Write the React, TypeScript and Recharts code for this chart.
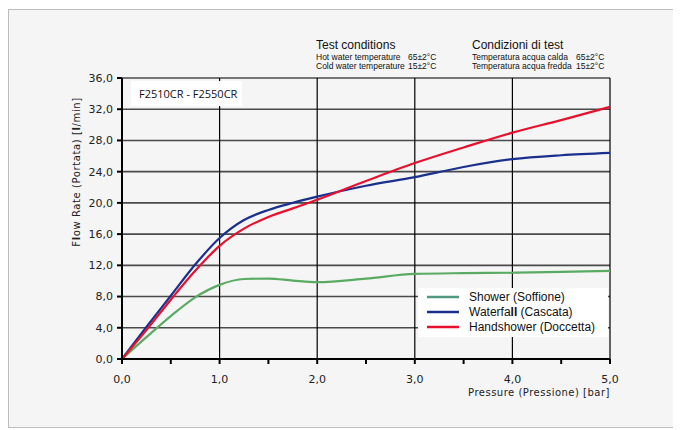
import React from "react";
import { LineChart, Line, XAxis, YAxis, ReferenceLine } from "recharts";

const pressure = [0, 0.25, 0.5, 0.75, 1.0, 1.25, 1.5, 1.75, 2.0, 2.5, 3.0, 3.5, 4.0, 4.5, 5.0];
const shower = [0, 2.8, 5.5, 7.9, 9.5, 10.25, 10.3, 10.05, 9.85, 10.3, 10.9, 11.0, 11.05, 11.15, 11.3];
const waterfall = [0, 4.1, 8.1, 12.1, 15.5, 17.8, 19.1, 20.0, 20.8, 22.2, 23.3, 24.6, 25.6, 26.1, 26.4];
const handshower = [0, 3.7, 7.6, 11.3, 14.5, 16.7, 18.2, 19.3, 20.4, 22.8, 25.1, 27.1, 29.0, 30.6, 32.3];

const xTicks = [0, 0.5, 1, 1.5, 2, 2.5, 3, 3.5, 4, 4.5, 5];
const yTicks = [0, 4, 8, 12, 16, 20, 24, 28, 32, 36];
const xGrid = [1, 2, 3, 4, 5];
const yGrid = [4, 8, 12, 16, 20, 24, 28, 32, 36];

const data = pressure.map((p, i) => ({
  p,
  shower: shower[i],
  waterfall: waterfall[i],
  handshower: handshower[i],
}));

const GREEN = "#5aab62";
const BLUE = "#1b2f8c";
const RED = "#e8102c";

const fmt = (v: number) => v.toFixed(1).replace(".", ",");
const tickFont = { fontFamily: "DejaVu Sans", fontSize: 11, fill: "#222" };

export default function App() {
  return (
    <div style={{ position: "relative", width: 681, height: 430, margin: "-8px 0 0 -8px" }}>
      <div
        style={{
          position: "absolute",
          left: 8,
          top: 9,
          width: 664,
          height: 417,
          background: "#f5f5f5",
          border: "1px solid #bdbdbd",
        }}
      />
      <div style={{ position: "absolute", left: 0, top: 0 }}>
        <LineChart width={681} height={430} data={data} margin={{ top: 78, right: 71, bottom: 41, left: 62 }}>
          {yGrid.map((v) => (
            <ReferenceLine key={"h" + v} y={v} stroke="#4a4a4a" strokeWidth={1.6} />
          ))}
          {xGrid.map((v) => (
            <ReferenceLine key={"v" + v} x={v} stroke="#000" strokeWidth={1.2} />
          ))}
          <XAxis
            dataKey="p"
            type="number"
            domain={[0, 5]}
            ticks={xTicks}
            tickFormatter={(v: number) => (Number.isInteger(v) ? fmt(v) : "")}
            height={30}
            tickSize={5}
            tickMargin={11}
            stroke="#000"
            strokeWidth={2}
            tick={tickFont}
          />
          <YAxis
            type="number"
            domain={[0, 36]}
            ticks={yTicks}
            tickFormatter={fmt}
            width={60}
            tickSize={5}
            tickMargin={4}
            stroke="#000"
            strokeWidth={2}
            tick={tickFont}
          />
          <Line type="monotone" dataKey="shower" stroke={GREEN} strokeWidth={2.2} dot={false} isAnimationActive={false} />
          <Line type="monotone" dataKey="waterfall" stroke={BLUE} strokeWidth={2.2} dot={false} isAnimationActive={false} />
          <Line type="monotone" dataKey="handshower" stroke={RED} strokeWidth={2.2} dot={false} isAnimationActive={false} />
        </LineChart>
      </div>
      <svg width={681} height={430} style={{ position: "absolute", left: 0, top: 0, pointerEvents: "none" }}>
        <rect x={131} y={81} width={111} height={25} fill="#fff" />
        <text x={139} y={98} fontFamily="Open Sans" fontSize={11} fill="#111">
          F2510CR - F2550CR
        </text>

        <g fontFamily="Liberation Sans" fill="#111">
          <text x={316} y={49} fontSize={12}>Test conditions</text>
          <text x={316} y={60} fontSize={8.5}>Hot water temperature</text>
          <text x={408} y={60} fontSize={8.5}>65±2°C</text>
          <text x={316} y={69} fontSize={8.5}>Cold water temperature</text>
          <text x={408} y={69} fontSize={8.5}>15±2°C</text>
          <text x={472} y={49} fontSize={12}>Condizioni di test</text>
          <text x={472} y={60} fontSize={8.5}>Temperatura acqua calda</text>
          <text x={576} y={60} fontSize={8.5}>65±2°C</text>
          <text x={472} y={69} fontSize={8.5}>Temperatura acqua fredda</text>
          <text x={576} y={69} fontSize={8.5}>15±2°C</text>
        </g>

        <text
          x={610}
          y={396}
          textAnchor="end"
          fontFamily="DejaVu Sans"
          fontSize={10}
          letterSpacing={0.5}
          fill="#222"
        >
          Pressure (Pressione) [bar]
        </text>
        <text
          transform="translate(80,172) rotate(-90)"
          textAnchor="middle"
          fontFamily="DejaVu Sans"
          fontSize={10}
          letterSpacing={0.6}
          fill="#222"
        >
          F<tspan fontWeight="bold">l</tspan>ow Rate (Portata) [<tspan fontWeight="bold">l</tspan>/min]
        </text>

        <rect x={418} y={288} width={190} height={49} fill="#fff" />
        <line x1={427} y1={297} x2={459} y2={297} stroke="#4f9a7e" strokeWidth={2.5} />
        <line x1={427} y1={312} x2={459} y2={312} stroke={BLUE} strokeWidth={2.5} />
        <line x1={427} y1={327} x2={459} y2={327} stroke={RED} strokeWidth={2.5} />
        <g fontFamily="Liberation Sans" fontSize={12} fill="#111">
          <text x={469} y={301}>Shower (Soffione)</text>
          <text x={469} y={316}>
            Waterfa<tspan fontWeight="bold">ll</tspan> (Cascata)
          </text>
          <text x={469} y={331}>Handshower (Doccetta)</text>
        </g>
      </svg>
    </div>
  );
}
